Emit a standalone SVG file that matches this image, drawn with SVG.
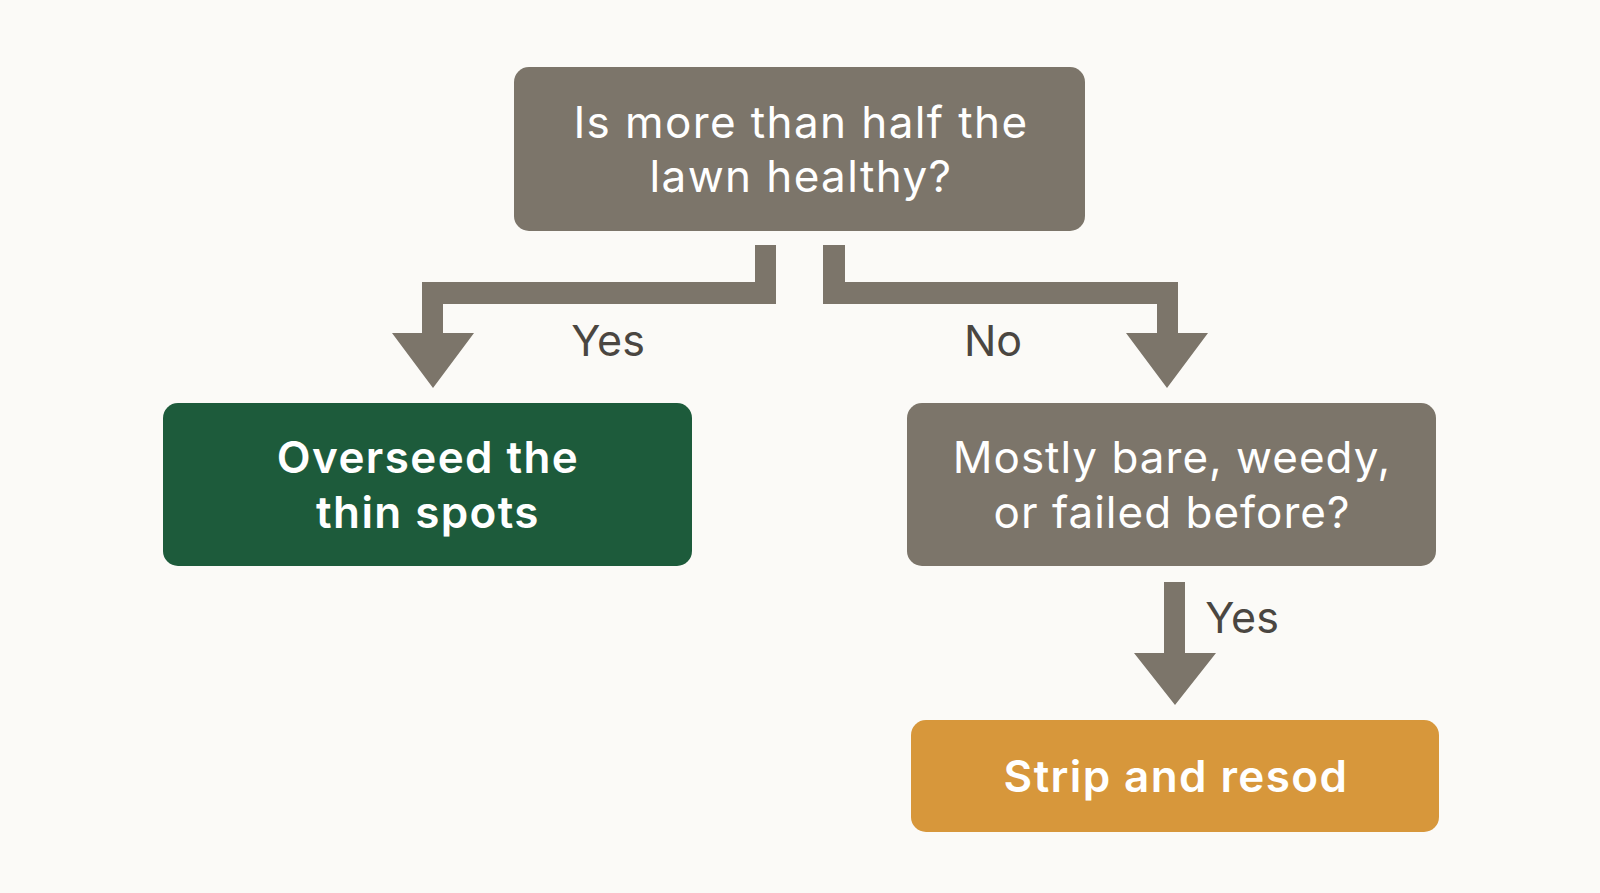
<svg xmlns="http://www.w3.org/2000/svg" width="1600" height="893" viewBox="0 0 1600 893">
  <style>
    .box-gray { fill: #7c756a; }
    .box-green { fill: #1d5b3b; }
    .box-orange { fill: #d7973b; }
    .t { font-family: "Inter", "Open Sans", "Liberation Sans", sans-serif; font-size: 44px; fill: #ffffff; text-anchor: middle; letter-spacing: 1.4px; }
    .tn { letter-spacing: 1px; }
    .tb { font-weight: 600; }
    .lbl { font-family: "Inter", "Open Sans", "Liberation Sans", sans-serif; font-size: 43px; fill: #4a4641; text-anchor: middle; }
    .conn { fill: #7c756a; }
  </style>
  <rect x="0" y="0" width="1600" height="893" fill="#fbfaf7"/>

  <g id="connectors">
    <polygon class="conn" points="755,245 776,245 776,304 443,304 443,333 474,333 433,388 392,333 422,333 422,282 755,282"/>
    <polygon class="conn" points="823,245 845,245 845,282 1178,282 1178,333 1208,333 1167,388 1126,333 1157,333 1157,304 823,304"/>
    <polygon class="conn" points="1164,582 1185,582 1185,653 1216,653 1175,705 1134,653 1164,653"/>
    <text class="lbl" x="608" y="356">Yes</text>
    <text class="lbl" x="993" y="356">No</text>
    <text class="lbl" x="1242" y="633">Yes</text>
  </g>

  <g id="q1">
    <rect class="box-gray" x="514" y="67" width="571" height="164" rx="15"/>
    <text class="t" x="801" y="138">Is more than half the</text>
    <text class="t" x="801" y="192">lawn healthy?</text>
  </g>

  <g id="overseed">
    <rect class="box-green" x="163" y="403" width="529" height="163" rx="15"/>
    <text class="t tb" x="428" y="473">Overseed the</text>
    <text class="t tb" x="428" y="528">thin spots</text>
  </g>

  <g id="q2">
    <rect class="box-gray" x="907" y="403" width="529" height="163" rx="15"/>
    <text class="t tn" x="1172" y="473">Mostly bare, weedy,</text>
    <text class="t tn" x="1172" y="528">or failed before?</text>
  </g>

  <g id="resod">
    <rect class="box-orange" x="911" y="720" width="528" height="112" rx="15"/>
    <text class="t tb" x="1176" y="792">Strip and resod</text>
  </g>
</svg>
